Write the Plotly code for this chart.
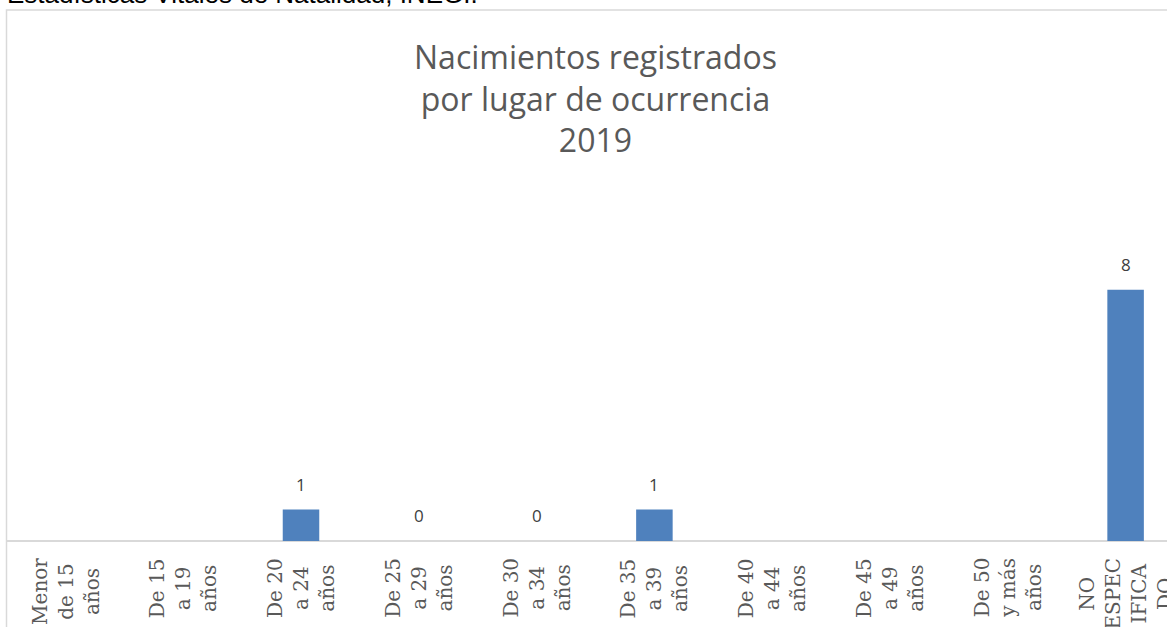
import plotly.graph_objects as go

categories = ["Menor<br>de 15<br>años", "De 15<br>a 19<br>años", "De 20<br>a 24<br>años",
              "De 25<br>a 29<br>años", "De 30<br>a 34<br>años", "De 35<br>a 39<br>años",
              "De 40<br>a 44<br>años", "De 45<br>a 49<br>años", "De 50<br>y más<br>años",
              "NO<br>ESPEC<br>IFICA<br>DO"]
values = [None, None, 1, 0, 0, 1, None, None, None, 8]
title_lines = ["Nacimientos registrados", "por lugar de ocurrencia", "2019"]
source_text = "Estadísticas Vitales de Natalidad, INEGI."

W, H = 1167, 627
x0_px, base_px, top_px = 6.5, 541, 170
unit_px = 31.4
cat_px = 117.8
x_hi = -0.5 + (W - x0_px) / cat_px

fig = go.Figure()
fig.add_trace(go.Bar(
    x=list(range(len(categories))),
    y=[v if v is not None else 0 for v in values],
    marker=dict(color="#4F81BD", line=dict(width=0)),
    width=0.31,
    hoverinfo="skip",
))

annotations = []
for i, v in enumerate(values):
    if v is not None:
        annotations.append(dict(
            x=i, y=v, xref="x", yref="y", text=str(v), showarrow=False,
            yanchor="bottom", yshift=12,
            font=dict(family="Open Sans, sans-serif", size=17, color="#404040"),
        ))
for i, c in enumerate(categories):
    annotations.append(dict(
        x=i, y=(H - base_px) / H, xref="x", yref="paper", text=c, showarrow=False,
        textangle=-90, xanchor="center", yanchor="top", yshift=-15, align="center",
        font=dict(family="DejaVu Serif, serif", size=20, color="#595959"),
    ))
annotations.append(dict(
    x=595 / W, y=1 - 98 / H, xref="paper", yref="paper",
    text="<br>".join(title_lines), showarrow=False,
    xanchor="center", yanchor="middle",
    font=dict(family="Open Sans, sans-serif", size=32, color="#595959"),
))
annotations.append(dict(
    x=0, y=1, xref="paper", yref="paper", text=source_text, showarrow=False,
    xanchor="left", yanchor="middle", yshift=6.5, xshift=5,
    font=dict(family="Liberation Sans, Arial, sans-serif", size=26, color="#000000"),
))

fig.update_layout(
    width=W, height=H, autosize=False,
    margin=dict(l=0, r=0, t=0, b=0),
    paper_bgcolor="white", plot_bgcolor="white",
    showlegend=False,
    annotations=annotations,
    shapes=[dict(type="rect", xref="paper", yref="paper",
                 x0=x0_px / W, x1=1.01, y0=-0.05, y1=1 - 10 / H,
                 line=dict(color="#D9D9D9", width=1.5), layer="below")],
    xaxis=dict(domain=[x0_px / W, 1], range=[-0.5, x_hi], showticklabels=False,
               showgrid=False, zeroline=False, showline=False, ticks=""),
    yaxis=dict(domain=[(H - base_px) / H, (H - top_px) / H],
               range=[0, (base_px - top_px) / unit_px], showticklabels=False,
               showgrid=False, zeroline=True, zerolinecolor="#D9D9D9", zerolinewidth=1.5,
               showline=False, ticks=""),
)

fig.write_html("out.html", config={"displayModeBar": False},
               post_script="document.body.style.margin='0';")
